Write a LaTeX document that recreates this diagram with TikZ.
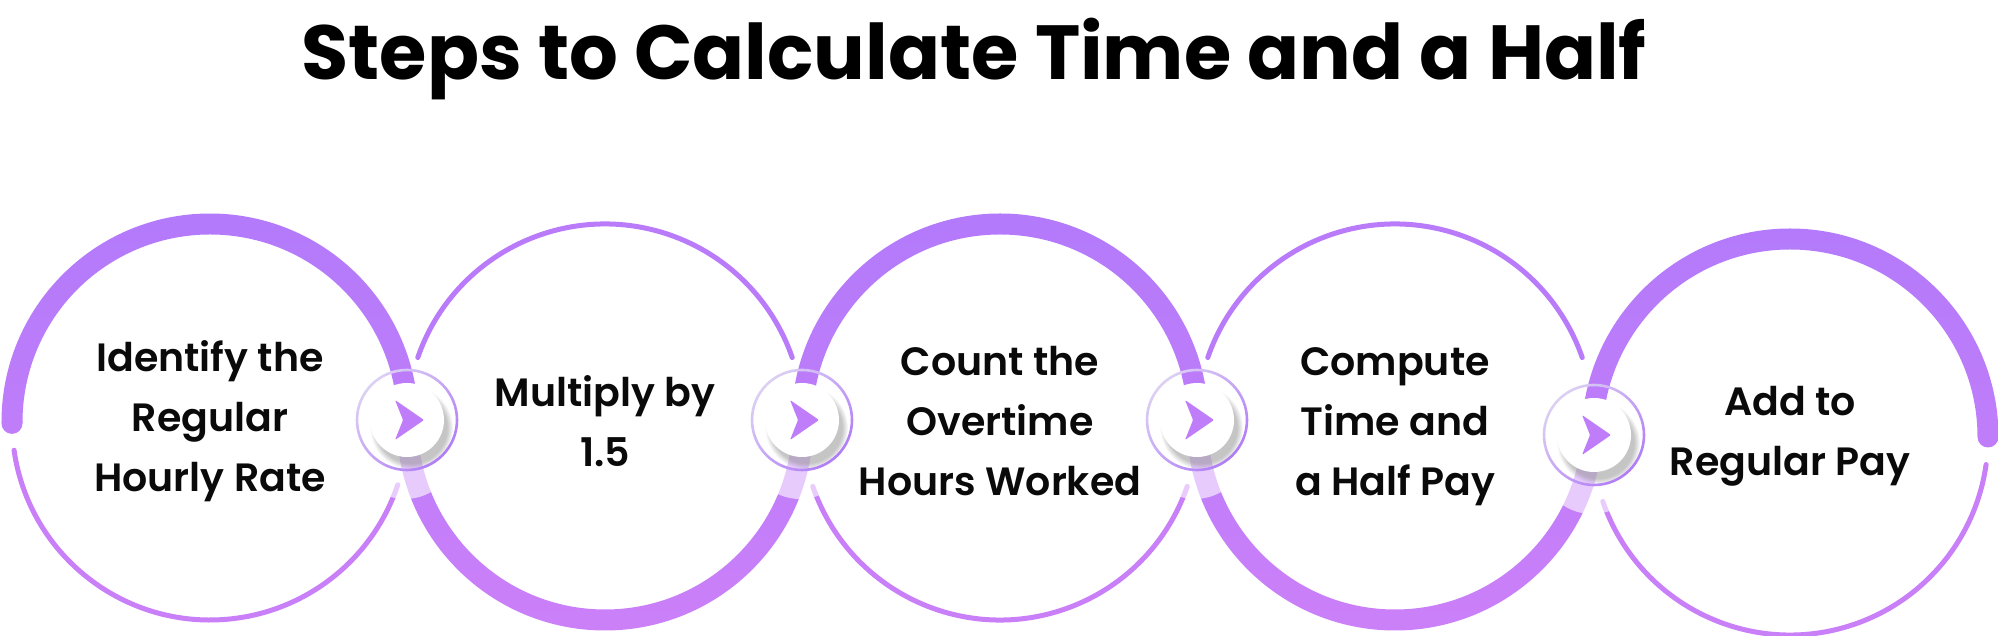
\documentclass[tikz,border=0pt]{standalone}
\usepackage{fontspec}
\setmainfont{Poppins}
\newfontfamily\labfont{Poppins SemiBold}
\usetikzlibrary{calc,shadows,fadings}
\definecolor{thA}{HTML}{B27AFB}
\definecolor{thB}{HTML}{CC80F8}
\definecolor{thinTop}{HTML}{BA7BFA}
\definecolor{thinBot}{HTML}{C87FF8}
\definecolor{arrowc}{HTML}{BF7DF9}
\definecolor{ringA}{HTML}{B07CF7}
\definecolor{ringB}{HTML}{DCD0F3}
\definecolor{txt}{HTML}{0A0A0A}
\newcommand\thickarc[3]{%
  \begin{scope}
    \clip ($(#1)+(#2:208.5)$) arc[start angle=#2, end angle=#3, radius=208.5]
      -- ($(#1)+(#3:187.5)$) arc[start angle=#3, end angle=#2, radius=187.5] -- cycle;
    \shade[top color=thA, bottom color=thB] (0,-10) rectangle (2000,430);
  \end{scope}}
\newcommand\thickcap[2]{%
  \begin{scope}
    \clip ($(#1)+(#2:198)$) circle[radius=10.5];
    \shade[top color=thA, bottom color=thB] (0,-10) rectangle (2000,430);
  \end{scope}}
\newcommand\connector[1]{%
  \fill[white, opacity=0.6] ([shift={(-2,-27)}]#1.center) circle[radius=52];
  \node[kdisk] at (#1.center) {};
  \shade[even odd rule, left color=ringB, right color=ringA, shading angle=45]
    (#1.center) circle[radius=51.3] (#1.center) circle[radius=48.7];
  \fill[arrowc, rounded corners=1.2] ([shift={(-12,20)}]#1.center) -- ([shift={(17,0)}]#1.center)
    -- ([shift={(-12,-20)}]#1.center) -- ([shift={(-4,0)}]#1.center) -- cycle;}
\tikzset{
  stepcircle/.style={circle, minimum size=396pt, inner sep=0pt, draw=none},
  kpoint/.style={circle, minimum size=100pt, inner sep=0pt, draw=none},
  kdisk/.style={circle, minimum size=74pt, inner sep=0pt, fill=white,
    circular drop shadow={shadow xshift=4pt, shadow yshift=-7pt, shadow scale=1.12, opacity=0.45}},
  thinline/.style={line width=5pt, line cap=round},
  lab/.style={font=\labfont\fontsize{39.5}{60}\selectfont, align=center, text=txt, inner sep=0pt},
  titlestyle/.style={font=\bfseries\fontsize{76.7}{90}\selectfont, text=black, inner sep=0pt, anchor=base}
}
\begin{document}
\begin{tikzpicture}[x=1pt,y=1pt]
\useasboundingbox (0,0) rectangle (2000,636);
\fill[white] (0,0) rectangle (2000,636);
\node[titlestyle] (title) at (974,556) {Steps to Calculate Time and a Half};
% circles
\node[stepcircle] (c1) at (210,214) {};
\node[stepcircle] (c2) at (605,214) {};
\node[stepcircle] (c3) at (1000,214) {};
\node[stepcircle] (c4) at (1395,214) {};
\node[stepcircle] (c5) at (1790,199) {};
% connector positions
\node[kpoint] (k1) at (407,216) {};
\node[kpoint] (k2) at (802,216) {};
\node[kpoint] (k3) at (1197,216) {};
\node[kpoint] (k4) at (1594,201) {};
% thin arcs
\draw[thinline, thinBot] ($(c1.center)+(188.2:198)$) arc[start angle=188.2, end angle=341.5, radius=198];
\draw[thinline, thinTop] ($(c2.center)+(161:198)$) arc[start angle=161, end angle=19, radius=198];
\draw[thinline, thinBot] ($(c3.center)+(199:198)$) arc[start angle=199, end angle=341, radius=198];
\draw[thinline, thinTop] ($(c4.center)+(161:198)$) arc[start angle=161, end angle=19, radius=198];
\draw[thinline, thinBot] ($(c5.center)+(199:198)$) arc[start angle=199, end angle=352, radius=198];
% thick arcs
\thickarc{c1.center}{180.4}{0}
\thickarc{c2.center}{180}{360}
\thickarc{c3.center}{180}{0}
\thickarc{c4.center}{180}{360}
\thickarc{c5.center}{180}{0}
\thickcap{c1.center}{180.4}
\thickcap{c5.center}{0}
% connectors
\connector{k1}
\connector{k2}
\connector{k3}
\connector{k4}
% labels
\node[lab] (l1) at (210,215) {Identify the\\Regular\\Hourly Rate};
\node[lab] (l2) at (605,215) {Multiply by\\1.5};
\node[lab] (l3) at (1000,215) {Count the\\Overtime\\Hours Worked};
\node[lab] (l4) at (1395,209) {Compute\\Time and\\a Half Pay};
\node[lab] (l5) at (1790,200) {Add to\\Regular Pay};
\end{tikzpicture}
\end{document}
